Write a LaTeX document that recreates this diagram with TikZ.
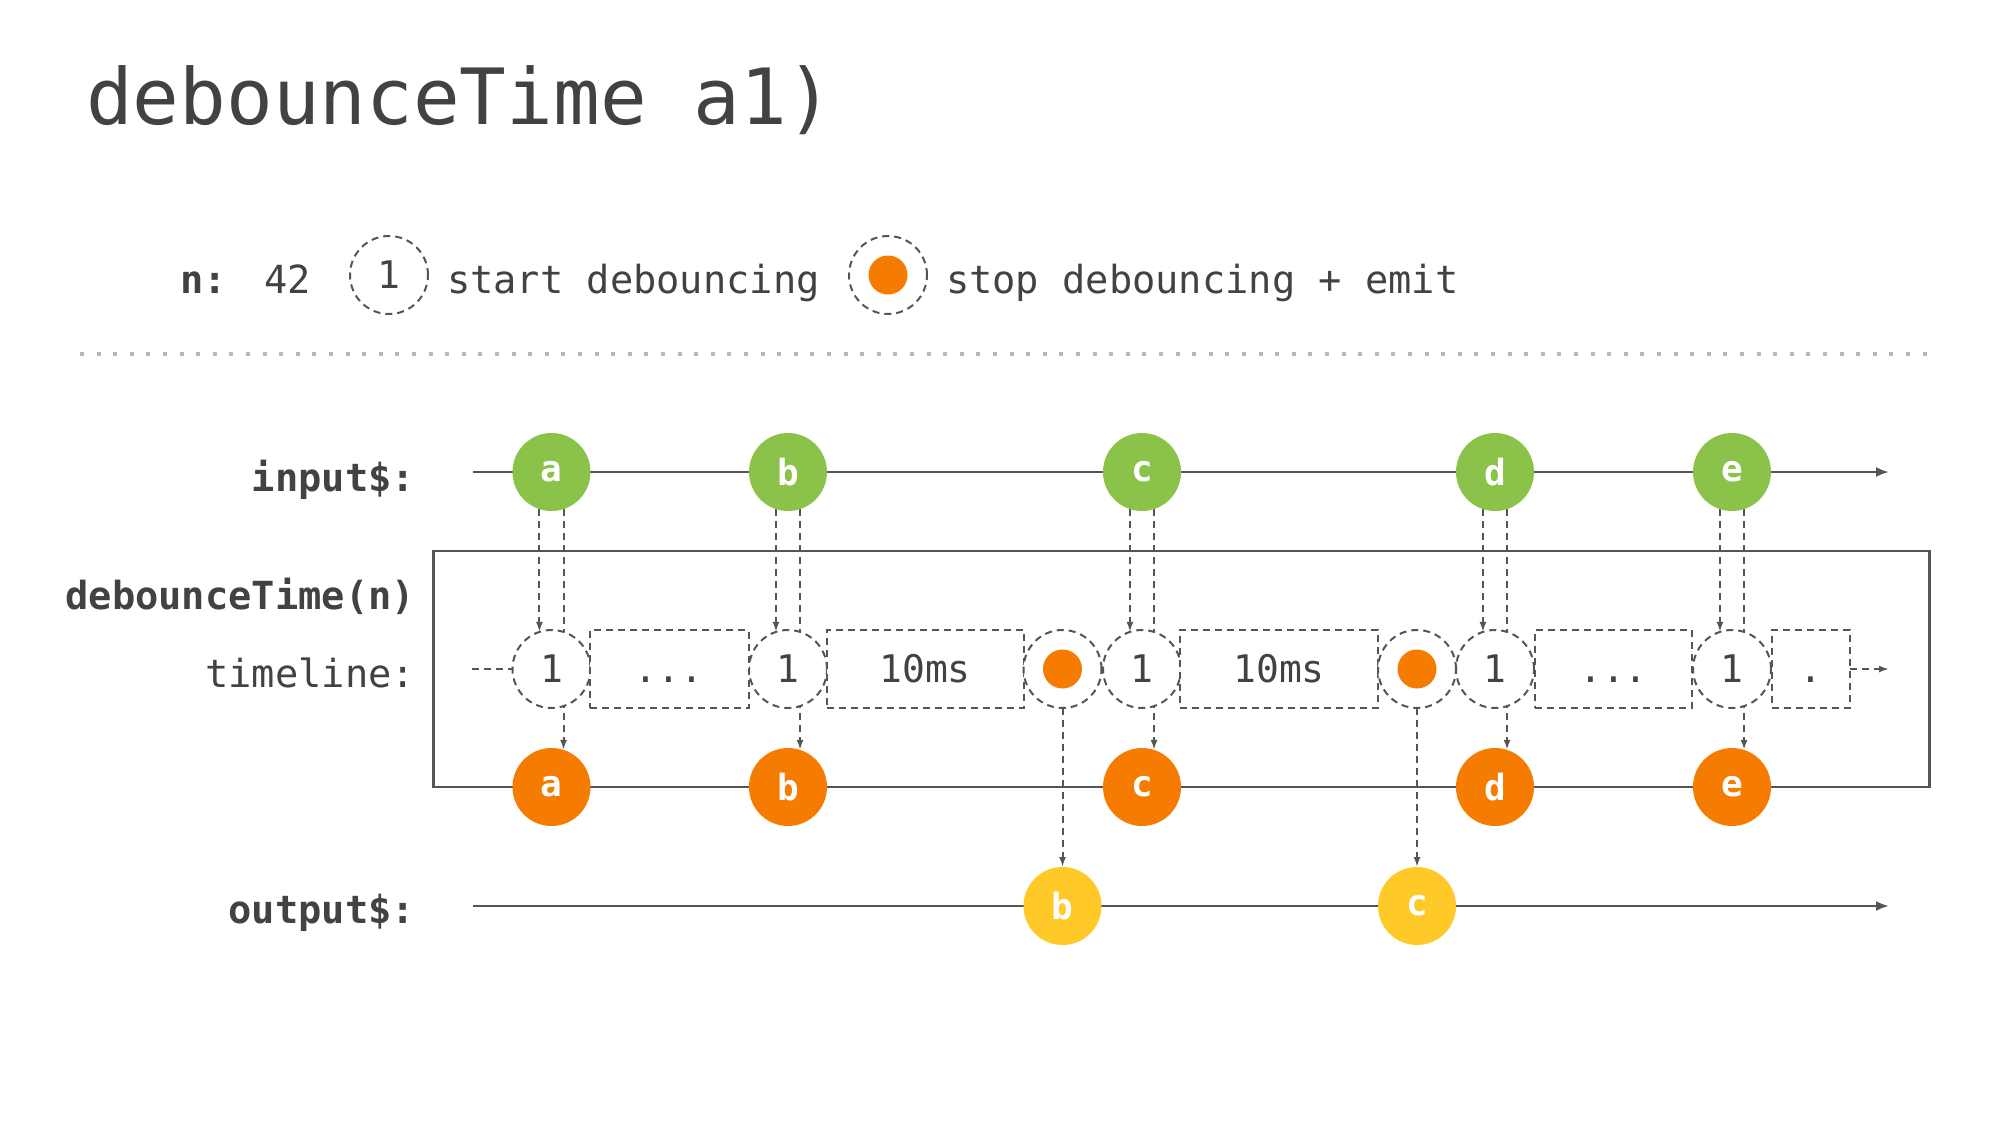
\documentclass[tikz,border=0pt]{standalone}
\usepackage{fontspec}
\setmonofont{DejaVu Sans Mono}
\usetikzlibrary{arrows.meta,backgrounds}

\definecolor{ink}{HTML}{424242}
\definecolor{wire}{HTML}{555555}
\definecolor{ingreen}{HTML}{8BC34A}
\definecolor{emorange}{HTML}{F57C00}
\definecolor{outyellow}{HTML}{FFCA28}
\definecolor{sepgray}{HTML}{B8B8B8}

\tikzset{
  txt/.style={font=\ttfamily\fontsize{38.7}{44}\selectfont, text=ink, inner sep=0pt, outer sep=0pt},
  boldtxt/.style={font=\ttfamily\bfseries\fontsize{38.7}{44}\selectfont, text=ink, inner sep=0pt, outer sep=0pt},
  marble/.style={circle, minimum size=78pt, inner sep=0pt, outer sep=0pt, text=white,
    font=\ttfamily\bfseries\fontsize{36}{40}\selectfont},
  inmarble/.style={marble, fill=ingreen},
  opmarble/.style={marble, fill=emorange},
  outmarble/.style={marble, fill=outyellow},
  dashline/.style={draw=wire, line width=2pt, dash pattern=on 7pt off 5pt},
  tick/.style={circle, dashline, fill=white, minimum size=78pt, inner sep=0pt, outer sep=0pt,
    text=ink, font=\ttfamily\fontsize{38}{44}\selectfont, text height=27.7pt, text depth=0pt},
  waitbox/.style={rectangle, dashline, fill=white, minimum height=78pt, inner sep=0pt, outer sep=0pt,
    text=ink, font=\ttfamily\fontsize{38}{44}\selectfont, text height=27.7pt, text depth=0pt},
  emitdot/.style={circle, fill=emorange, minimum size=39pt, inner sep=0pt, outer sep=0pt},
  dashconn/.style={dashline, -{Latex[length=10pt,width=7pt]}},
  mainline/.style={draw=wire, line width=2.5pt, -{Latex[length=13pt,width=10pt]}},
  opbox/.style={rectangle, draw=wire, line width=2.5pt, inner sep=0pt, outer sep=0pt},
}

\begin{document}
\begin{tikzpicture}[x=1pt,y=-1pt]
\useasboundingbox (0,0) rectangle (2000,1125);

% heading
\node[anchor=base west, inner sep=0pt, text=ink, font=\ttfamily\fontsize{77.6}{82}\selectfont]
  (title) at (86,124) {debounceTime a1)};

% legend
\node[boldtxt, anchor=base west] (nlab) at (180,293) {n:};
\node[txt, anchor=base west] (nval) at (264,293) {42};
\node[tick] (legtick) at (389,275) {1};
\node[txt, anchor=base west] (legstart) at (447,293) {start debouncing};
\node[tick] (legstop) at (888,275) {};
\node[emitdot] (legstopdot) at (legstop) {};
\node[txt, anchor=base west] (legemit) at (946,293) {stop debouncing + emit};

% separator
\coordinate (sepl) at (80,354);
\coordinate (sepr) at (1928,354);
\draw[sepgray, line width=4pt, dash pattern=on 4pt off 12.6pt] (sepl) -- (sepr);

% row labels
\node[boldtxt, anchor=base east] (lin) at (415,491) {input\$:};
\node[boldtxt, anchor=base east] (lop) at (415,609) {debounceTime(n)};
\node[txt, anchor=base east] (ltl) at (415,687) {timeline:};
\node[boldtxt, anchor=base east] (lout) at (415,923) {output\$:};

% operator frame
\node[opbox, minimum width=1496pt, minimum height=236pt] (op) at (1181.5,669) {};

% input marbles
\foreach \n/\x in {a/551.5, b/788, c/1142, d/1495, e/1732}
  \node[inmarble] (g\n) at (\x,472) {\n};

% timeline
\foreach \n/\x in {a/551.5, b/788, c/1142, d/1495, e/1732}
  \node[tick] (t\n) at (\x,669) {1};
\node[waitbox, minimum width=158.5pt] (w1) at (669.3,669) {...};
\node[waitbox, minimum width=197pt] (w2) at (925,669) {10ms};
\node[tick] (s1) at (1062.5,669) {};
\node[emitdot] (s1dot) at (s1) {};
\node[waitbox, minimum width=198pt] (w3) at (1279,669) {10ms};
\node[tick] (s2) at (1417,669) {};
\node[emitdot] (s2dot) at (s2) {};
\node[waitbox, minimum width=157pt] (w4) at (1613.5,669) {...};
\node[waitbox, minimum width=78pt] (w5) at (1811,669) {.};

% operator output marbles
\foreach \n/\x in {a/551.5, b/788, c/1142, d/1495, e/1732}
  \node[opmarble] (o\n) at (\x,787) {\n};

% output marbles
\node[outmarble] (yb) at (s1 |- 0,906) {b};
\node[outmarble] (yc) at (s2 |- 0,906) {c};

\coordinate (instart) at (473,472);
\coordinate (inend) at (1889,472);
\coordinate (tlstart) at (472,669);
\coordinate (tlend) at (1889,669);
\coordinate (outstart) at (473,906);
\coordinate (outend) at (1889,906);

% streams and connectors, kept beneath the marbles
\begin{pgfonlayer}{background}
  \fill[white] (0,0) rectangle (2000,1125);
  \draw[mainline] (instart) -- (inend);
  \draw[mainline] (outstart) -- (outend);
  \draw[dashline] (tlstart) -- (ta.west);
  \draw[dashconn] (w5.east) -- (tlend);
  \foreach \n in {a,b,c,d,e} {
    \draw[dashconn] (g\n.252) -- (t\n.108);
    \draw[dashconn] (g\n.288) -- (o\n.72);
  }
  \draw[dashconn] (s1.south) -- (yb.north);
  \draw[dashconn] (s2.south) -- (yc.north);
\end{pgfonlayer}
\end{tikzpicture}
\end{document}
